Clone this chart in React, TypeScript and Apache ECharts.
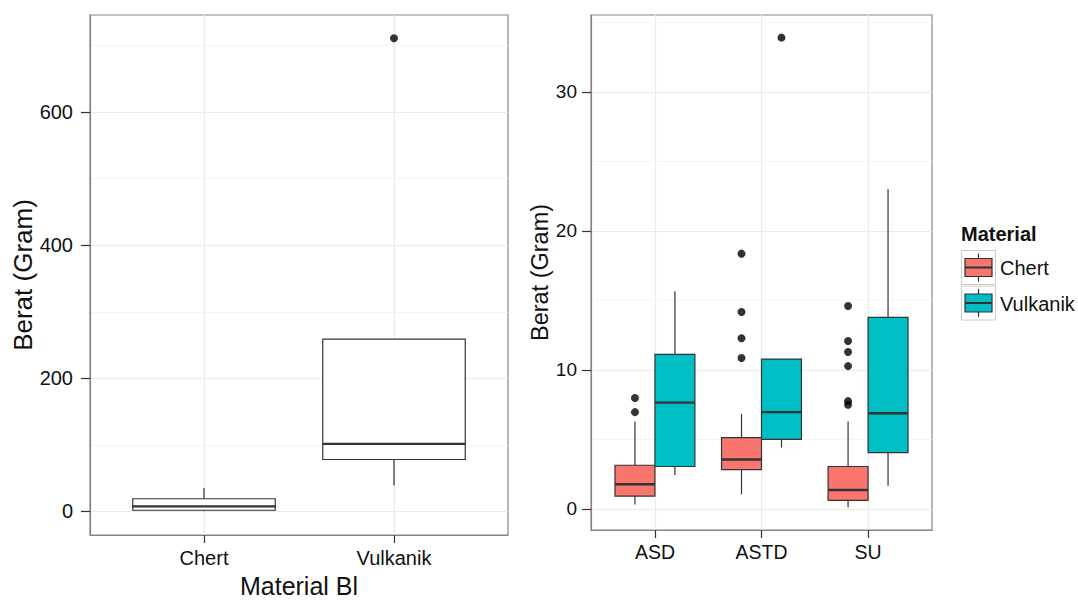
import React, { useEffect, useRef } from 'react';
import * as echarts from 'echarts';

// ---------- data ----------
// box statistics: [lowerWhisker, q1, median, q3, upperWhisker]
const leftCategories = ['Chert', 'Vulkanik'];
const leftBoxStats = [
  [0.3, 1.7, 7.5, 19, 35],
  [39, 78, 101.5, 259, 259],
];
const leftOutliers = [[], [711]];
const leftYTicks = [0, 200, 400, 600];
const leftYMinorTicks = [100, 300, 500, 700];

const rightCategories = ['ASD', 'ASTD', 'SU'];
const chertStats = [
  [0.32, 0.92, 1.77, 3.14, 6.28],
  [1.04, 2.83, 3.55, 5.12, 6.84],
  [0.12, 0.61, 1.36, 3.05, 6.28],
];
const vulkanikStats = [
  [2.44, 3.05, 7.64, 11.12, 15.65],
  [4.42, 5.0, 6.96, 10.78, 10.78],
  [1.67, 4.04, 6.88, 13.77, 23.0],
];
const chertOutliers = [
  [7.98, 6.96],
  [18.36, 14.16, 12.27, 10.85],
  [14.6, 12.08, 11.28, 10.27, 7.75, 7.49],
];
const vulkanikOutliers = [[], [33.9], []];
const rightYTicks = [0, 10, 20, 30];
const rightYMinorTicks = [5, 15, 25, 35];

const legendTitle = 'Material';
const legendLabels = ['Chert', 'Vulkanik'];

// ---------- style ----------
const FONT = 'Liberation Sans, Arial, Helvetica, sans-serif';
const CHERT = '#F8766D';
const VULK = '#00BFC4';
const STROKE = '#333333';
const TEXT = '#111111';
const MAJOR = '#EBEBEB';
const MINOR = '#F5F5F5';
const BORDER = '#858585';

const makeRender = (halfWidth: number, fill: string) => (params: any, api: any) => {
  const x = api.value(0);
  const lo = api.value(1);
  const q1 = api.value(2);
  const med = api.value(3);
  const q3 = api.value(4);
  const hi = api.value(5);
  const [xl, yQ1] = api.coord([x - halfWidth, q1]);
  const [xr, yQ3] = api.coord([x + halfWidth, q3]);
  const [xc, yLo] = api.coord([x, lo]);
  const yHi = api.coord([x, hi])[1];
  const yMed = api.coord([x, med])[1];
  return {
    type: 'group',
    children: [
      { type: 'line', shape: { x1: xc, y1: yQ3, x2: xc, y2: yHi }, style: { stroke: STROKE, lineWidth: 1.2 } },
      { type: 'line', shape: { x1: xc, y1: yQ1, x2: xc, y2: yLo }, style: { stroke: STROKE, lineWidth: 1.2 } },
      {
        type: 'rect',
        shape: { x: xl, y: yQ3, width: xr - xl, height: yQ1 - yQ3 },
        style: { fill, stroke: STROKE, lineWidth: 1.2 },
      },
      { type: 'line', shape: { x1: xl, y1: yMed, x2: xr, y2: yMed }, style: { stroke: STROKE, lineWidth: 2.4 } },
    ],
  };
};

const boxData = (stats: number[][], offset: number) =>
  stats.map((s, i) => [i + 1 + offset, ...s]);

const outlierData = (outs: number[][], offset: number) => {
  const res: number[][] = [];
  outs.forEach((arr, i) => arr.forEach((v) => res.push([i + 1 + offset, v])));
  return res;
};

function legendKey(cx: number, cy: number, fill: string) {
  return [
    { type: 'rect', shape: { x: cx - 17, y: cy - 17, width: 34, height: 34 }, style: { fill: '#fff', stroke: '#cccccc', lineWidth: 1 } },
    { type: 'line', shape: { x1: cx, y1: cy - 14, x2: cx, y2: cy + 14 }, style: { stroke: STROKE, lineWidth: 1.2 } },
    { type: 'rect', shape: { x: cx - 13.5, y: cy - 9, width: 27, height: 18 }, style: { fill, stroke: STROKE, lineWidth: 1.2 } },
    { type: 'line', shape: { x1: cx - 13.5, y1: cy, x2: cx + 13.5, y2: cy }, style: { stroke: STROKE, lineWidth: 2 } },
  ];
}

export default function App() {
  const ref = useRef<HTMLDivElement>(null);
  useEffect(() => {
    if (!ref.current) return;
    const chart = echarts.init(ref.current, undefined, { renderer: 'svg' });

    const yCommon = (min: number, max: number, ticks: number[], fontSize: number, margin: number) => ({
      type: 'value',
      min,
      max,
      axisLine: { show: true, onZero: false, lineStyle: { color: BORDER, width: 1.2 } },
      axisTick: { show: true, length: 9, customValues: ticks, lineStyle: { color: STROKE, width: 1.2 } },
      axisLabel: { customValues: ticks, fontSize, color: TEXT, fontFamily: FONT, margin },
      splitLine: { show: true, lineStyle: { color: MAJOR, width: 1.2 } },
    });
    const yMinor = (gridIndex: number, min: number, max: number, ticks: number[]) => ({
      type: 'value',
      gridIndex,
      min,
      max,
      position: 'right',
      axisLine: { show: false, onZero: false },
      axisTick: { show: false, customValues: ticks },
      axisLabel: { show: false, customValues: ticks },
      splitLine: { show: true, lineStyle: { color: MINOR, width: 1 } },
    });
    const xCommon = (gridIndex: number, max: number, cats: string[], fontSize: number, margin: number) => {
      const vals = cats.map((_, i) => i + 1);
      return {
        type: 'value',
        gridIndex,
        min: 0.4,
        max,
        position: 'bottom',
        axisLine: { show: true, onZero: false, lineStyle: { color: BORDER, width: 1.2 } },
        axisTick: { show: true, inside: false, length: 8, customValues: vals, lineStyle: { color: STROKE, width: 1.2 } },
        axisLabel: {
          customValues: vals,
          formatter: (v: number) => cats[Math.round(v) - 1] ?? '',
          fontSize,
          color: TEXT,
          fontFamily: FONT,
          margin,
        },
        splitLine: { show: true, lineStyle: { color: MAJOR, width: 1.2 } },
      };
    };

    const option: any = {
      animation: false,
      backgroundColor: '#ffffff',
      textStyle: { fontFamily: FONT },
      grid: [
        { left: 90, top: 15, width: 418, height: 520, show: true, borderColor: BORDER, borderWidth: 1.2, backgroundColor: 'transparent', outerBoundsMode: 'none', containLabel: false },
        { left: 591, top: 15, width: 341, height: 515, show: true, borderColor: BORDER, borderWidth: 1.2, backgroundColor: 'transparent', outerBoundsMode: 'none', containLabel: false },
      ],
      xAxis: [
        {
          ...xCommon(0, 2.6, leftCategories, 20, 13),
          name: 'Material Bl',
          nameLocation: 'middle',
          nameGap: 38,
          nameTextStyle: { fontSize: 25, color: TEXT, fontFamily: FONT },
        },
        xCommon(1, 3.6, rightCategories, 19.5, 12),
      ],
      yAxis: [
        {
          ...yCommon(-35.5, 746, leftYTicks, 20, 17),
          gridIndex: 0,
          position: 'left',
          name: 'Berat (Gram)',
          nameLocation: 'middle',
          nameGap: 53,
          nameTextStyle: { fontSize: 26, color: TEXT, fontFamily: FONT },
        },
        yMinor(0, -35.5, 746, leftYMinorTicks),
        {
          ...yCommon(-1.52, 35.53, rightYTicks, 19, 14),
          gridIndex: 1,
          position: 'left',
          name: 'Berat (Gram)',
          nameLocation: 'middle',
          nameGap: 36,
          nameTextStyle: { fontSize: 23.5, color: TEXT, fontFamily: FONT },
        },
        yMinor(1, -1.52, 35.53, rightYMinorTicks),
      ],
      series: [
        {
          type: 'custom',
          xAxisIndex: 0,
          yAxisIndex: 0,
          renderItem: makeRender(0.375, '#ffffff'),
          encode: { x: 0, y: [1, 2, 3, 4, 5] },
          data: boxData(leftBoxStats, 0),
          z: 3,
        },
        {
          type: 'scatter',
          xAxisIndex: 0,
          yAxisIndex: 0,
          symbol: 'circle',
          symbolSize: 8,
          itemStyle: { color: '#000000' },
          data: outlierData(leftOutliers, 0),
          z: 4,
        },
        {
          type: 'custom',
          xAxisIndex: 1,
          yAxisIndex: 2,
          renderItem: makeRender(0.1875, CHERT),
          encode: { x: 0, y: [1, 2, 3, 4, 5] },
          data: boxData(chertStats, -0.1875),
          z: 3,
        },
        {
          type: 'custom',
          xAxisIndex: 1,
          yAxisIndex: 2,
          renderItem: makeRender(0.1875, VULK),
          encode: { x: 0, y: [1, 2, 3, 4, 5] },
          data: boxData(vulkanikStats, 0.1875),
          z: 3,
        },
        {
          type: 'scatter',
          xAxisIndex: 1,
          yAxisIndex: 2,
          symbol: 'circle',
          symbolSize: 8,
          itemStyle: { color: '#000000' },
          data: [...outlierData(chertOutliers, -0.1875), ...outlierData(vulkanikOutliers, 0.1875)],
          z: 4,
        },
      ],
      graphic: [
        {
          type: 'text',
          left: 961,
          top: 224,
          style: { text: legendTitle, fontSize: 20, fontWeight: 'bold', fill: TEXT, fontFamily: FONT },
        },
        ...legendKey(978.5, 267.5, CHERT),
        ...legendKey(978.5, 303, VULK),
        {
          type: 'text',
          left: 1000,
          top: 258,
          style: { text: legendLabels[0], fontSize: 20, fill: TEXT, fontFamily: FONT },
        },
        {
          type: 'text',
          left: 1000,
          top: 294,
          style: { text: legendLabels[1], fontSize: 20, fill: TEXT, fontFamily: FONT },
        },
      ],
    };

    chart.setOption(option);
    return () => chart.dispose();
  }, []);

  return (
    <div
      ref={ref}
      style={{ position: 'fixed', left: 0, top: 0, width: 1078, height: 601, background: '#fff' }}
    />
  );
}
